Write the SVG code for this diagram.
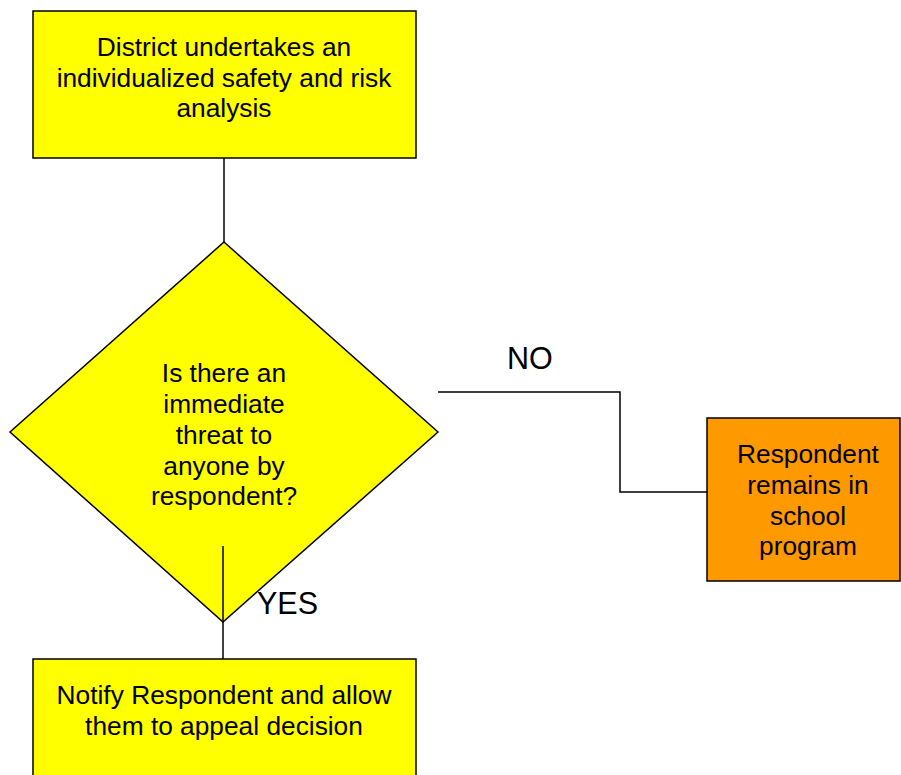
<svg xmlns="http://www.w3.org/2000/svg" width="901" height="775" viewBox="0 0 901 775">
<style>
.box{stroke:#000;stroke-width:1.5}
.y{fill:#FFFF00}
.o{fill:#FF9900}
.t{font-family:"Liberation Sans",Arial,sans-serif;font-size:26.3px;fill:#000;text-anchor:middle}
.l{font-family:"Liberation Sans",Arial,sans-serif;font-size:30.5px;fill:#000}
.c{fill:none;stroke:#000;stroke-width:1.5}
</style>
<rect width="901" height="775" fill="#fff"/>
<g id="connectors">
<line class="c" x1="224" y1="158" x2="224" y2="242"/>
<polyline class="c" points="438,392 620,392 620,492 707,492"/>
</g>
<g id="analysis">
<rect class="box y" x="33" y="11" width="383" height="147"/>
<text class="t" x="224" y="56">District undertakes an</text>
<text class="t" x="224" y="87">individualized safety and risk</text>
<text class="t" x="224" y="117">analysis</text>
</g>
<g id="decision">
<polygon class="box y" points="224,242 438,432 223,622 10,432"/>
<text class="t" x="224" y="382">Is there an</text>
<text class="t" x="224" y="413">immediate</text>
<text class="t" x="224" y="444">threat to</text>
<text class="t" x="224" y="475">anyone by</text>
<text class="t" x="224" y="505">respondent?</text>
</g>
<g id="yes-connector">
<line class="c" x1="223" y1="546" x2="223" y2="659"/>
<text class="l" x="257" y="614">YES</text>
</g>
<g id="no-label">
<text class="l" x="507" y="369">NO</text>
</g>
<g id="remains">
<rect class="box o" x="707" y="418" width="193" height="163"/>
<text class="t" x="808" y="463">Respondent</text>
<text class="t" x="808" y="494">remains in</text>
<text class="t" x="808" y="525">school</text>
<text class="t" x="808" y="555">program</text>
</g>
<g id="notify">
<rect class="box y" x="33" y="659" width="383" height="130"/>
<text class="t" x="224" y="704">Notify Respondent and allow</text>
<text class="t" x="224" y="735">them to appeal decision</text>
</g>
</svg>
